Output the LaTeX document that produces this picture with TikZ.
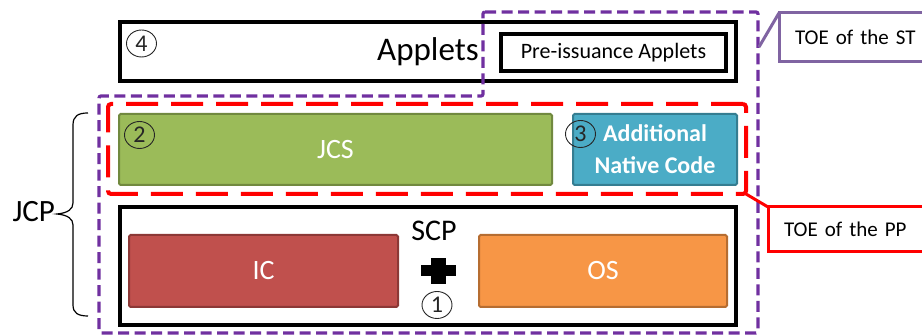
\documentclass[tikz,border=0pt]{standalone}
\usepackage{fontspec}
\setmainfont{Carlito}
\usetikzlibrary{positioning,shapes.geometric}

\definecolor{jcsgreen}{HTML}{9BBB59}
\definecolor{jcsborder}{HTML}{71893F}
\definecolor{nativeblue}{HTML}{4BACC6}
\definecolor{nativeborder}{HTML}{357D91}
\definecolor{icred}{HTML}{C0504D}
\definecolor{icborder}{HTML}{8C3836}
\definecolor{osorange}{HTML}{F79646}
\definecolor{osborder}{HTML}{B66D31}
\definecolor{stpurple}{HTML}{7030A0}
\definecolor{calloutpurple}{HTML}{8064A2}

\begin{document}
\begin{tikzpicture}
[x=1pt, y=-1pt,
    every node/.style={inner sep=0pt, outer sep=0pt},
    layer/.style={rectangle, draw=black, line width=4pt},
    block/.style={rectangle, rounded corners=1.5pt, line width=2pt,
    text=white, font=\fontsize{28}{32}\selectfont},
    num/.style={ellipse, draw=black!85, line width=0.9pt, minimum width=30pt,
    minimum height=27pt, text=black!85, font=\fontsize{24}{24}\selectfont},
    callout/.style={rectangle, line width=3pt, anchor=north west,
    text width=150pt, inner xsep=16pt, align=left,
    font=\fontsize{21}{24}\selectfont},
    ]

    \useasboundingbox (0,0) rectangle (922,336);
    \clip (0,0) rectangle (922,336);

    % applets
    \node (applets) [layer, minimum width=616pt, minimum height=59pt,
        font=\fontsize{33}{36}\selectfont] at (428,51.5) {Applets};
    \node (pre_issuance) [layer, line width=3.5pt, minimum width=225pt,
        minimum height=37pt, font=\fontsize{22}{24}\selectfont]
        at (613.5,52.5) {Pre-issuance Applets};
    \node (num4) [num] at (141.5,43.5) {4};

    % jcs + native code
    \node (jcs) [block, fill=jcsgreen, draw=jcsborder, minimum width=433pt,
        minimum height=71pt] at (335.5,149.5) {JCS};
    \node (native_code) [block, fill=nativeblue, draw=nativeborder,
        minimum width=164pt, minimum height=71pt, align=center,
        font=\fontsize{24}{32}\selectfont\bfseries]
        at (655,149.5) {Additional\\Native Code};
    \node (num2) [num] at (139.5,135) {2};
    \node (num3) [num] at (580.5,134) {3};

    % scp
    \node (scp_box) [layer, minimum width=616pt, minimum height=118pt]
        at (428,266) {};
    \node (scp) [font=\fontsize{30}{32}\selectfont] at (434,231) {SCP};
    \node (ic) [block, fill=icred, draw=icborder, minimum width=269pt,
        minimum height=72pt] at (263.5,271) {IC};
    \node (os) [block, fill=osorange, draw=osborder, minimum width=248pt,
        minimum height=72pt] at (603,271) {OS};
    \node (plus) at (438,271) {};
    \fill ([shift={(-17.5,-5.5)}]plus.center) rectangle ++(35,11);
    \fill ([shift={(-7.5,-13)}]plus.center) rectangle ++(15,26);
    \node (num1) [num] at (437,305) {1};

    % toe areas
    \node (pp_area) [rectangle, draw=red, line width=4pt, rounded corners=3pt,
        dash pattern=on 32pt off 13pt, minimum width=638pt, minimum height=90pt]
        at (427,149) {};
    \draw [stpurple, line width=3.2pt, dash pattern=on 11pt off 5.5pt,
        rounded corners=2pt]
        (483,12) -- (758,12) -- (758,333) -- (99,333) -- (99,96)
        -- (483,96) -- cycle;

    \coordinate (st_tip) at (759,47);
    \node (st_label) [callout, draw=calloutpurple, minimum height=49pt]
        at (779,13) {TOE of the ST};
    \draw [calloutpurple, line width=3pt] (st_tip) -- (st_label.north west);

    \node (pp_label) [callout, draw=red, minimum height=45pt]
        at (768,207) {TOE of the PP};
    \draw [red, line width=3pt] (pp_area.south east) -- (pp_label.north west);

    % jcp brace
    \coordinate (brace_tip) at (57,214);
    \draw [line width=1.2pt]
        (88,113) .. controls (78,113) and (73,116) .. (73,125) -- (73,203)
        .. controls (73,209) and (68,213) .. (brace_tip)
        .. controls (68,215) and (73,219) .. (73,225) -- (73,305)
        .. controls (73,313) and (78,316) .. (88,316);
    \node (jcp) [left=2pt of brace_tip, yshift=2pt,
        font=\fontsize{31}{34}\selectfont] {JCP};

\end{tikzpicture}
\end{document}
